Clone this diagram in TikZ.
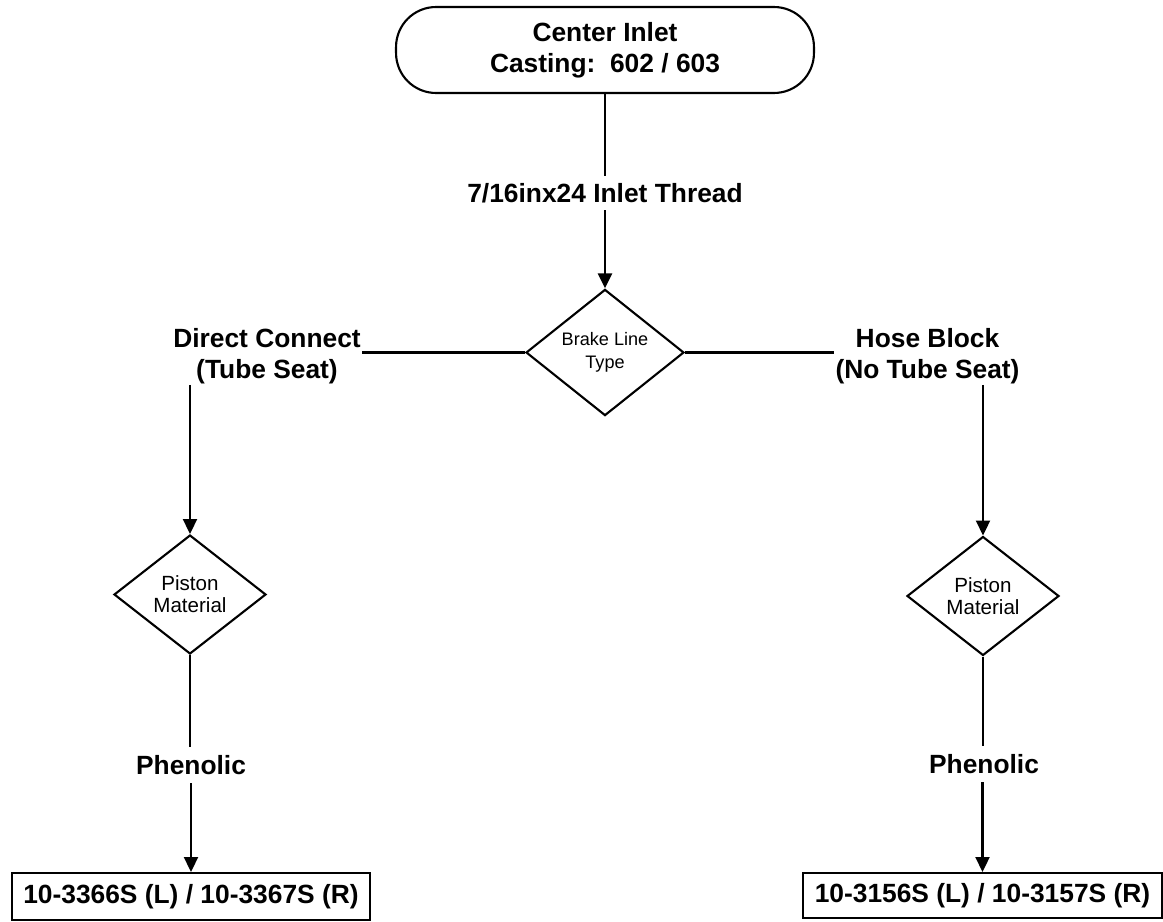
\documentclass[tikz,border=0pt]{standalone}
\usepackage{fontspec}
\setmainfont{Liberation Sans}
\usetikzlibrary{shapes.geometric,arrows.meta}
\begin{document}
\begin{tikzpicture}[x=0.02cm,y=-0.02cm,
  line width=1.2pt,
  big/.style={font=\bfseries\fontsize{15}{17.6}\selectfont},
  lbl/.style={big,align=center,inner sep=0pt},
  gap/.style={big,inner sep=0pt,minimum height=#1},
  term/.style={big,draw,rectangle,rounded corners=0.8cm,minimum width=8.36cm,minimum height=1.72cm,align=center,inner sep=0pt},
  dec/.style={draw,diamond,inner sep=0pt,align=center},
  pbox/.style={big,draw,rectangle,inner sep=0pt,align=center},
  arr/.style={-{Triangle[length=8.5pt,width=8pt]}}]
\useasboundingbox (0,0) rectangle (1163,922);

\node[term] (term) at (605,50) {Center Inlet\\Casting:\ \ 602 / 603};
\node[gap=0.64cm] (thread) at (605,193) {7/16inx24 Inlet Thread};
\node[dec,minimum width=3.16cm,minimum height=2.38cm,font=\fontsize{10.3}{13}\selectfont] (brake) at (605,352.5) {Brake Line\\Type};

\node[lbl] (dlab) at (267,356) {Direct Connect\\(Tube Seat)};
\node[lbl] (hlab) at (927.5,356) {Hose Block\\(No Tube Seat)};

\node[dec,minimum width=3.04cm,minimum height=2.38cm,font=\fontsize{11.7}{12.5}\selectfont] (pl) at (190,594.5) {Piston\\Material};
\node[dec,minimum width=3.04cm,minimum height=2.38cm,font=\fontsize{11.7}{12.5}\selectfont] (pr) at (983,596) {Piston\\Material};

\node[gap=0.68cm] (phl) at (191,765) {Phenolic};
\node[gap=0.68cm] (phr) at (984,764) {Phenolic};

\node[pbox,minimum width=7.16cm,minimum height=0.94cm] (bl) at (191,896.5) {10-3366S (L) / 10-3367S (R)};
\node[pbox,minimum width=7.18cm,minimum height=0.9cm] (br) at (982.5,895.5) {10-3156S (L) / 10-3157S (R)};

\draw (term.south) -- (thread.north);
\draw[arr] (thread.south) -- (brake.north);
\draw (brake.west) -- (brake.west -| dlab.east);
\draw (brake.east) -- (brake.east -| hlab.west);
\draw[arr] (dlab.south -| pl.north) -- (pl.north);
\draw[arr] (hlab.south -| pr.north) -- (pr.north);
\draw (pl.south) -- (phl.north -| pl.south);
\draw[arr] (phl.south -| bl.north) -- (bl.north);
\draw (pr.south) -- (phr.north -| pr.south);
\draw[arr] (phr.south -| br.north) -- (br.north);
\end{tikzpicture}
\end{document}
